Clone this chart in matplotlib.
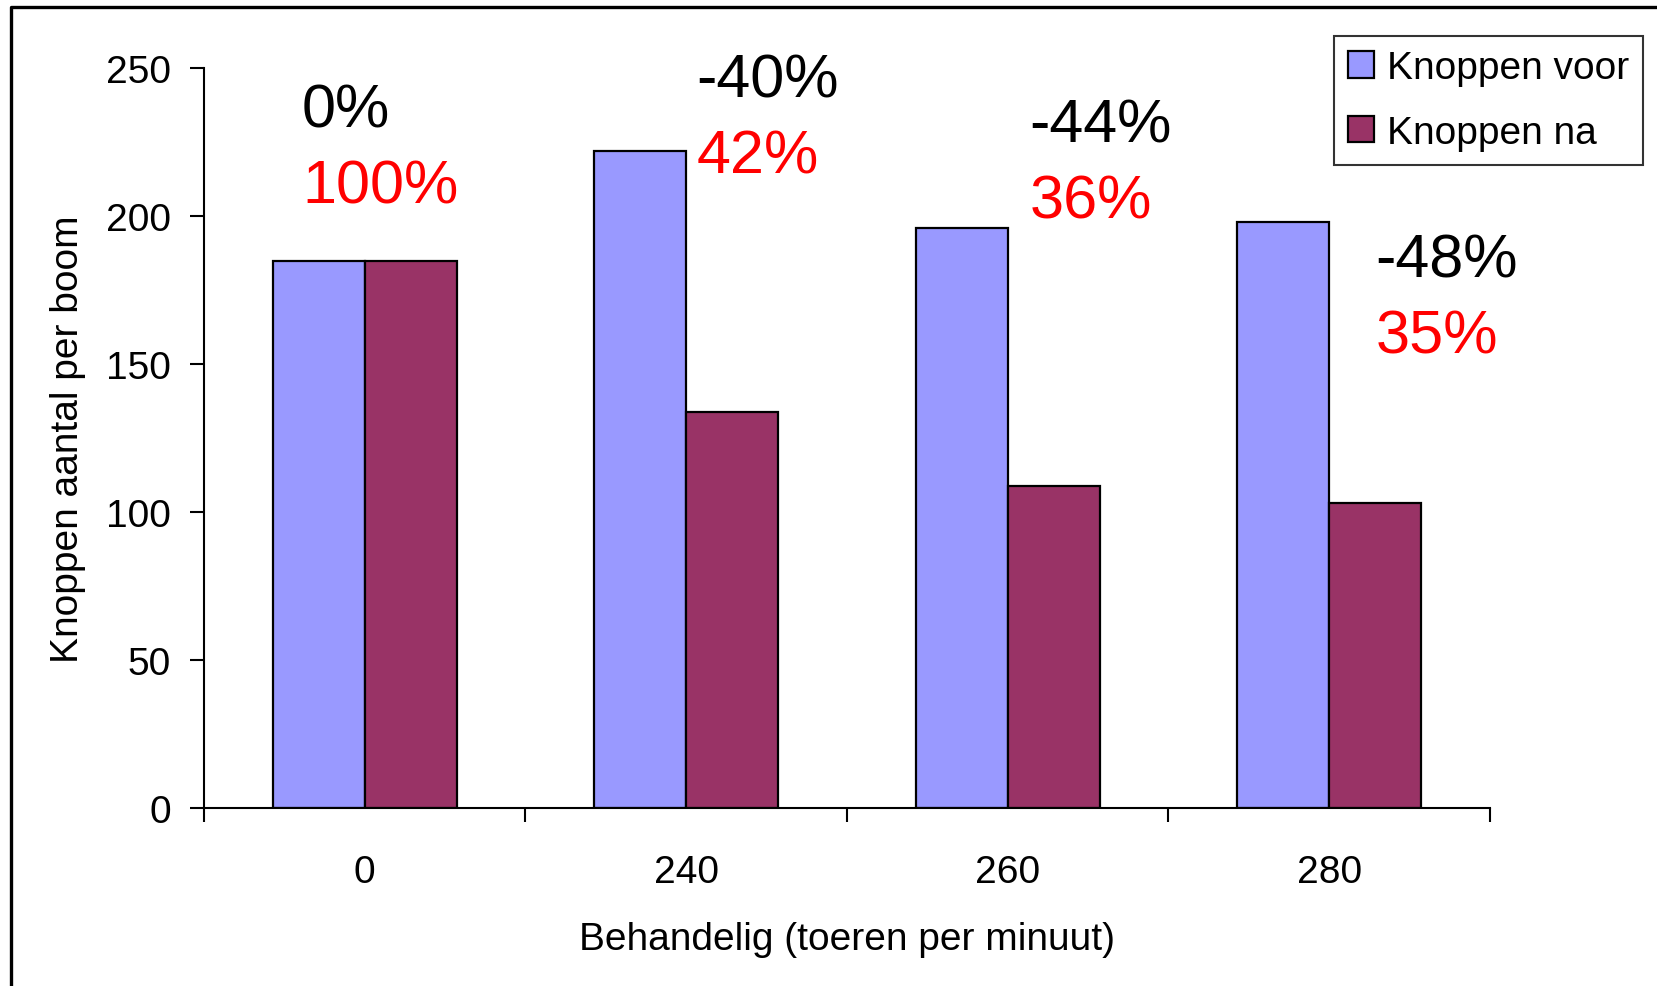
import matplotlib
matplotlib.use('Agg')
import matplotlib.pyplot as plt
from matplotlib.lines import Line2D
import numpy as np

plt.rcParams['font.family'] = ['Liberation Sans', 'DejaVu Sans']

# data
categories = ['0', '240', '260', '280']
voor = [185, 222, 196, 198]
na = [185, 134, 109, 103]
pct_change = ['0%', '-40%', '-44%', '-48%']
pct_remain = ['100%', '42%', '36%', '35%']

# layout of the percent labels (data coords, left / baseline)
label_x = [-0.195, 1.032, 2.068, 3.144]
label_y = [230.2, 240.6, 225.4, 179.5]

blue = '#9999FF'
maroon = '#993366'

fig = plt.figure(figsize=(16.58, 9.87), dpi=100)
ax = fig.add_axes([0.12304, 0.18005, 0.77563, 0.74974])

x = np.arange(len(categories))
w = 0.286
ax.bar(x - w / 2, voor, w, color=blue, edgecolor='black', linewidth=1.6, label='Knoppen voor')
ax.bar(x + w / 2, na, w, color=maroon, edgecolor='black', linewidth=1.6, label='Knoppen na')

for i in range(len(categories)):
    ax.text(label_x[i], label_y[i], pct_change[i], fontsize=44, color='black',
            ha='left', va='baseline')
    ax.annotate(pct_remain[i], (label_x[i], label_y[i]), xytext=(0, -54.7),
                textcoords='offset points', fontsize=44, color='red',
                ha='left', va='baseline')

ax.set_xlim(-0.5, 3.5)
ax.set_ylim(0, 250)
ax.set_yticks(np.arange(0, 251, 50))
ax.set_xticks(x)
ax.set_xticklabels(categories)
ax.set_xticks(np.arange(-0.5, 3.6, 1), minor=True)

ax.tick_params(axis='y', direction='out', length=10, width=1.5, labelsize=28, pad=14)
ax.tick_params(axis='x', which='major', length=0, labelsize=28, pad=33)
ax.tick_params(axis='x', which='minor', direction='out', length=10, width=1.5)

for s in ['top', 'right']:
    ax.spines[s].set_visible(False)
for s in ['left', 'bottom']:
    ax.spines[s].set_linewidth(1.5)

ax.set_xlabel('Behandelig (toeren per minuut)', fontsize=28, labelpad=22)
ax.set_ylabel('Knoppen aantal per boom', fontsize=28, labelpad=14)

leg = ax.legend(loc='upper right', bbox_to_anchor=(0.99095, 0.96251),
                bbox_transform=fig.transFigure, fontsize=28, frameon=True,
                fancybox=False, shadow=False, borderpad=0.36, labelspacing=0.74,
                handlelength=0.67, handleheight=0.67, handletextpad=0.33,
                borderaxespad=0)
leg.get_frame().set_edgecolor('black')
leg.get_frame().set_linewidth(1.5)

# outer frame of the chart (only left and top edge fall inside the picture)
fig.add_artist(Line2D([0.00645, 0.00645, 1.01], [-0.01, 0.9919, 0.9919],
                      transform=fig.transFigure, color='black', linewidth=2.4))

plt.savefig('out.png', dpi=100, facecolor='white')
